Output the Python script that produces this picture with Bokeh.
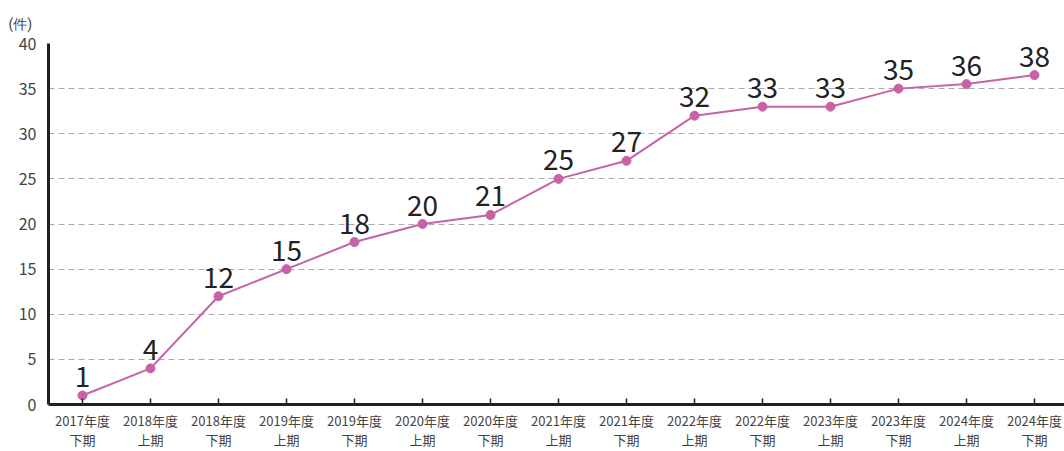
from bokeh.plotting import figure
from bokeh.embed import file_html
from bokeh.resources import INLINE
from bokeh.models import ColumnDataSource, FixedTicker
from bokeh.core.properties import value

periods = ["2017年度\n下期", "2018年度\n上期", "2018年度\n下期", "2019年度\n上期", "2019年度\n下期",
           "2020年度\n上期", "2020年度\n下期", "2021年度\n上期", "2021年度\n下期", "2022年度\n上期",
           "2022年度\n下期", "2023年度\n上期", "2023年度\n下期", "2024年度\n上期", "2024年度\n下期"]
values = [1, 4, 12, 15, 18, 20, 21, 25, 27, 32, 33, 33, 35, 35.5, 36.5]
value_labels = ["1", "4", "12", "15", "18", "20", "21", "25", "27", "32", "33", "33", "35", "36", "38"]
y_ticks = [0, 5, 10, 15, 20, 25, 30, 35, 40]
unit_label = "(件)"

FONT = "Noto Sans CJK JP"
LINE_COLOR = "#c662a6"

xs = list(range(len(periods)))
src = ColumnDataSource(dict(x=xs, y=values, t=value_labels))

p = figure(width=1064, height=451, output_backend="svg", toolbar_location=None,
           x_range=(-0.5, -0.5 + 1016 / 68), y_range=(0, 40),
           min_border_left=48, min_border_right=0, min_border_top=43, min_border_bottom=46)
p.outline_line_color = None
p.background_fill_color = "white"
p.border_fill_color = "white"

p.title.text = unit_label
p.title.align = "left"
p.title.offset = -40
p.title.standoff = 24
p.title.text_font = "Roboto"
p.title.text_font_size = "14px"
p.title.text_font_style = "normal"
p.title.text_color = "#444444"

# axes
p.xaxis.ticker = FixedTicker(ticks=xs)
p.xaxis.major_label_overrides = {i: s for i, s in enumerate(periods)}
p.xaxis.minor_tick_line_color = None
p.xaxis.major_tick_in = 6
p.xaxis.major_tick_out = 0
p.xaxis.major_tick_line_width = 1.5
p.xaxis.major_tick_line_color = "#231f20"
p.xaxis.axis_line_width = 3
p.xaxis.axis_line_color = "#231f20"
p.xaxis.major_label_text_font = FONT
p.xaxis.major_label_text_font_size = "13px"
p.xaxis.major_label_text_line_height = 1.0
p.xaxis.major_label_text_color = "#444444"
p.xaxis.major_label_standoff = 6

p.yaxis.ticker = FixedTicker(ticks=y_ticks)
p.yaxis.minor_tick_line_color = None
p.yaxis.major_tick_in = 0
p.yaxis.major_tick_out = 0
p.yaxis.axis_line_width = 3
p.yaxis.axis_line_color = "#231f20"
p.yaxis.major_label_text_font = FONT
p.yaxis.major_label_text_font_size = "16px"
p.yaxis.major_label_text_color = "#444444"
p.yaxis.major_label_standoff = 12

p.xgrid.grid_line_color = None
p.ygrid.ticker = FixedTicker(ticks=y_ticks[1:])
p.ygrid.grid_line_color = "#aaaaaa"
p.ygrid.grid_line_dash = "6 4"
p.ygrid.grid_line_width = 1

p.line("x", "y", source=src, line_color=LINE_COLOR, line_width=2)
p.scatter("x", "y", source=src, size=9, fill_color=LINE_COLOR, line_color=LINE_COLOR)
p.text("x", "y", text="t", source=src, text_font=value(FONT),
       text_font_size="28px", text_color="#222222", text_align="center",
       text_baseline="alphabetic", y_offset=-19)

open("out.html", "w").write(file_html(p, INLINE))
